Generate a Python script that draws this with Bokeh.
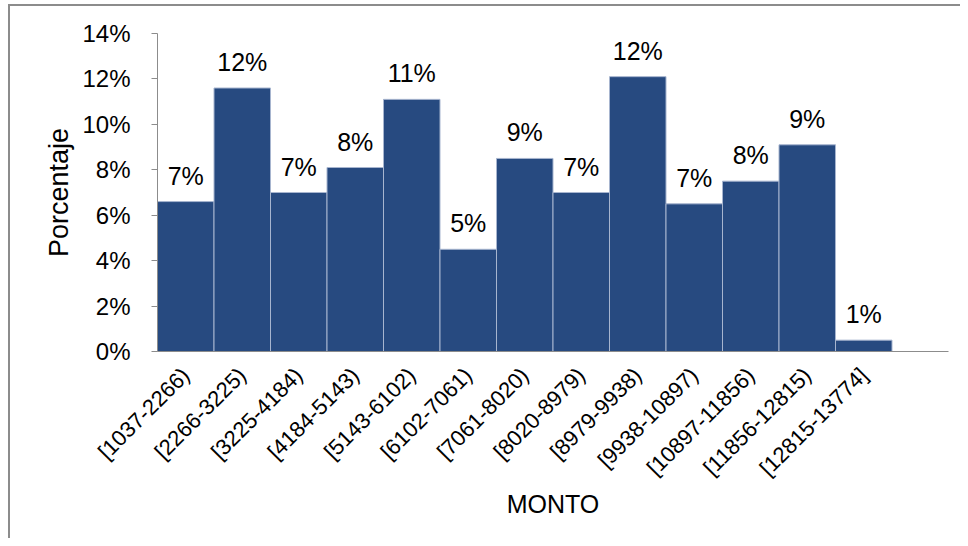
from bokeh.plotting import figure
from bokeh.models import FixedTicker, NumeralTickFormatter, Range1d, ColumnDataSource
from bokeh.core.properties import value
from bokeh.embed import file_html
from bokeh.resources import INLINE
import math

categories = ["[1037-2266)", "[2266-3225)", "[3225-4184)", "[4184-5143)", "[5143-6102)",
              "[6102-7061)", "[7061-8020)", "[8020-8979)", "[8979-9938)", "[9938-10897)",
              "[10897-11856)", "[11856-12815)", "[12815-13774]"]
percent = [6.6, 11.6, 7.0, 8.1, 11.1, 4.5, 8.5, 7.0, 12.1, 6.5, 7.5, 9.1, 0.5]
bar_labels = ["7%", "12%", "7%", "8%", "11%", "5%", "9%", "7%", "12%", "7%", "8%", "9%", "1%"]
y_ticks = [0, 0.02, 0.04, 0.06, 0.08, 0.10, 0.12, 0.14]

FONT = "Liberation Sans"
n_slots = len(categories) + 1  # one empty slot at the end of the axis

xs = [i + 0.5 for i in range(len(categories))]
src = ColumnDataSource(dict(x=xs, top=[v / 100 for v in percent], lab=bar_labels))

p = figure(width=960, height=538, output_backend="svg", toolbar_location=None,
           x_range=Range1d(0, n_slots), y_range=Range1d(0, 0.14),
           min_border_left=157, min_border_right=12, min_border_top=33, min_border_bottom=187)
p.outline_line_color = None
p.xgrid.visible = False
p.ygrid.visible = False
# transparent canvas so the chart-area frame (top and left edges) drawn by CSS shows through
p.border_fill_color = None
p.background_fill_color = None
p.styles = {"box-shadow": "inset 8px 4px 0 0 #ffffff, inset 10px 6px 0 0 #8c8c8c",
            "background-color": "#ffffff"}

p.vbar(x="x", top="top", bottom=0, width=1.0, source=src,
       fill_color="#274A80", line_color="#a7b5cf", line_width=1)

p.text(x="x", y="top", text="lab", source=src, text_align="center",
       text_baseline="alphabetic", y_offset=-26,
       text_font=value(FONT), text_font_size="25px", text_color="#000000")

# y axis
ya = p.yaxis[0]
ya.ticker = FixedTicker(ticks=y_ticks)
ya.formatter = NumeralTickFormatter(format="0%")
ya.axis_line_color = "#8c8c8c"
ya.major_tick_line_color = "#8c8c8c"
ya.major_tick_out = 6
ya.major_tick_in = 0
ya.minor_tick_line_color = None
ya.major_label_standoff = 21
ya.major_label_text_font = FONT
ya.major_label_text_font_size = "24px"
ya.major_label_text_color = "#000000"
ya.axis_label = "Porcentaje"
ya.axis_label_text_font = FONT
ya.axis_label_text_font_size = "27px"
ya.axis_label_text_font_style = "normal"
ya.axis_label_text_color = "#000000"
ya.axis_label_standoff = 5

# x axis
xa = p.xaxis[0]
xa.ticker = FixedTicker(ticks=xs)
xa.major_label_overrides = {x: c for x, c in zip(xs, categories)}
xa.major_label_orientation = math.pi / 4
xa.axis_line_color = "#8c8c8c"
xa.major_tick_line_color = None
xa.major_tick_out = 0
xa.major_tick_in = 0
xa.minor_tick_line_color = None
xa.major_label_standoff = 20
xa.major_label_text_font = FONT
xa.major_label_text_font_size = "22px"
xa.major_label_text_color = "#000000"
xa.axis_label = "MONTO"
xa.axis_label_text_font = FONT
xa.axis_label_text_font_size = "25px"
xa.axis_label_text_font_style = "normal"
xa.axis_label_text_color = "#000000"
xa.axis_label_standoff = -3

open("out.html", "w").write(file_html(p, INLINE))
